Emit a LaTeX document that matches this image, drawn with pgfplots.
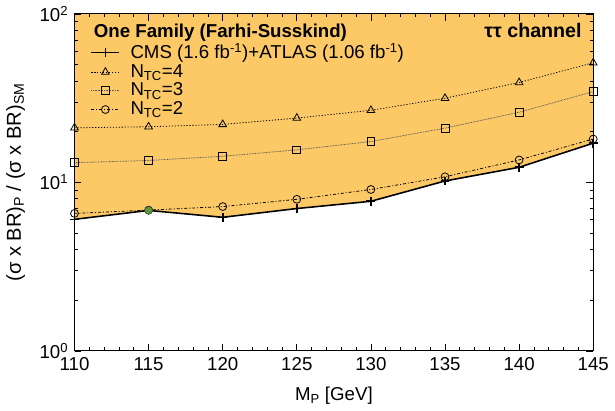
\documentclass[border=0pt]{standalone}
\usepackage{fontspec}
\setmainfont{Liberation Sans}
\usepackage{pgfplots}
\pgfplotsset{compat=1.18}
\definecolor{fillorange}{RGB}{252,201,102}
\definecolor{dotgreen}{RGB}{95,150,60}
\begin{document}
\fontsize{19}{22}\selectfont
\begin{tikzpicture}
\begin{axis}[
    scale only axis, width=528pt, height=343pt,
    xmin=110, xmax=145, ymin=1, ymax=100, ymode=log,
    xtick={110,115,...,145}, minor x tick num=4,
    ytick={1,10,100},
    yticklabels={10\textsuperscript{0},10\textsuperscript{1},10\textsuperscript{2}},
    /pgf/number format/assume math mode=true,
    major tick length=7pt, minor tick length=3.5pt,
    tick style={black, line width=0.8pt},
    axis line style={line width=1pt},
    xlabel={M\textsubscript{P} [GeV]},
    ylabel={(σ x BR)\textsubscript{P} / (σ x BR)\textsubscript{SM}},
    xlabel style={yshift=-4pt},
    ylabel style={yshift=2pt, font=\fontsize{20.5}{24}\selectfont},
    axis on top,
    legend cell align=left,
    legend style={draw=none, fill=none, at={(0.025,0.925)}, anchor=north west,
        row sep=-1pt, font=\fontsize{19}{22}\selectfont},
    legend image code/.code={\draw[mark repeat=2,mark phase=2,#1]
        plot coordinates {(0cm,0cm) (0.5cm,0cm) (1cm,0cm)};
        \path (1.3cm,0cm);},
]
\addplot[fill=fillorange, draw=none, forget plot] coordinates {
    (110,100) (110,6.04) (115,6.82) (120,6.21) (125,7.0) (130,7.73)
    (135,10.2) (140,12.3) (145,17.1) (145,100)} -- cycle;
\addplot[black, line width=1.6pt, mark=+, mark size=4.5pt] coordinates {
    (110,6.04) (115,6.82) (120,6.21) (125,7.0) (130,7.73)
    (135,10.2) (140,12.3) (145,17.1)};
\addplot[black, line width=0.8pt, dash pattern=on 1.2pt off 1.8pt,
    mark=triangle, mark size=4.5pt, mark options={solid}] coordinates {
    (110,21.1) (115,21.4) (120,22.1) (125,24.1) (130,26.8)
    (135,31.6) (140,39.2) (145,51.3)};
\addplot[black!65, line width=0.8pt, dash pattern=on 0.8pt off 0.8pt,
    mark=square, mark size=4pt, mark options={solid, black}] coordinates {
    (110,13.1) (115,13.5) (120,14.3) (125,15.6) (130,17.5)
    (135,21.0) (140,26.1) (145,34.6)};
\addplot[black, line width=0.8pt, dash pattern=on 3pt off 2pt on 1pt off 2pt,
    mark=o, mark size=4pt, mark options={solid}] coordinates {
    (110,6.55) (115,6.85) (120,7.19) (125,7.94) (130,9.08)
    (135,10.8) (140,13.6) (145,18.1)};
\addplot[only marks, mark=*, mark size=4pt, fill=dotgreen, draw=black!70,
    forget plot] coordinates {(115,6.82)};
\legend{CMS (1.6 fb\textsuperscript{-1})+ATLAS (1.06 fb\textsuperscript{-1}),
    N\textsubscript{TC}=4, N\textsubscript{TC}=3, N\textsubscript{TC}=2}
\node[anchor=north west, font=\bfseries\fontsize{19}{22}\selectfont]
    at (rel axis cs:0.025,0.99) {One Family (Farhi-Susskind)};
\node[anchor=north east, font=\bfseries\fontsize{20}{23}\selectfont]
    at (rel axis cs:0.99,0.99) {ττ channel};
\end{axis}
\end{tikzpicture}
\end{document}
